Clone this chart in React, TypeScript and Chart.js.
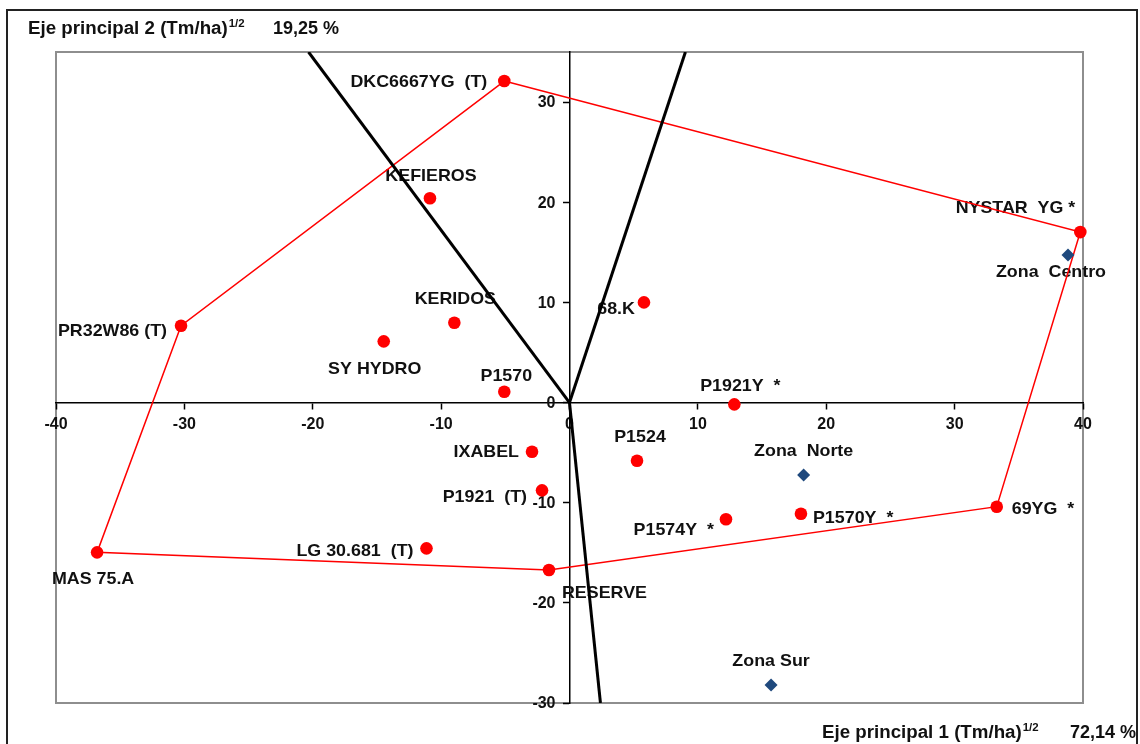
import React, { useEffect, useRef } from "react";
import { Chart, registerables } from "chart.js";

Chart.register(...registerables);

// ---- Data ----
const hybridNames = [
  "DKC6667YG  (T)", "KEFIEROS", "PR32W86 (T)", "KERIDOS", "SY HYDRO", "P1570",
  "68.K", "NYSTAR  YG *", "P1921Y  *", "IXABEL", "P1524", "P1921  (T)",
  "P1574Y  *", "P1570Y  *", "69YG  *", "LG 30.681  (T)", "MAS 75.A", "RESERVE",
];
const hybridX = [
  -5.08, -10.87, -30.26, -8.97, -14.47, -5.08,
  5.8, 39.79, 12.84, -2.92, 5.26, -2.14,
  12.19, 18.03, 33.28, -11.14, -36.8, -1.6,
];
const hybridY = [
  32.1, 20.39, 7.67, 7.97, 6.11, 1.08,
  10.0, 17.02, -0.18, -4.91, -5.81, -8.77,
  -11.66, -11.1, -10.4, -14.56, -14.96, -16.72,
];

const zoneNames = ["Zona  Centro", "Zona  Norte", "Zona Sur"];
const zoneX = [38.83, 18.24, 15.7];
const zoneY = [14.73, -7.24, -28.21];

// convex hull (polygon) vertex order, by hybrid index
const hullOrder = [0, 7, 14, 17, 16, 2, 0];

// black axis lines (from the origin)
const vectorEndX = [-20.33, 9.03, 2.41];
const vectorEndY = [35, 35, -30];

const xTicks = [-40, -30, -20, -10, 0, 10, 20, 30, 40];
const yTicks = [-30, -20, -10, 0, 10, 20, 30];

const xTitle = "Eje principal 1 (Tm/ha)";
const xTitlePct = "72,14 %";
const yTitle = "Eje principal 2 (Tm/ha)";
const yTitlePct = "19,25 %";
const titleSup = "1/2";

// ---- Label placement (pixel offsets from the marker) ----
type Place = { dx: number; dy: number; align: CanvasTextAlign };
const hybridLabelPlace: Place[] = [
  { dx: -17, dy: 1, align: "right" },
  { dx: 1, dy: -22, align: "center" },
  { dx: -14, dy: 6, align: "right" },
  { dx: 1, dy: -23, align: "center" },
  { dx: -9, dy: 28, align: "center" },
  { dx: 2, dy: -15, align: "center" },
  { dx: -9, dy: 7, align: "right" },
  { dx: -5, dy: -24, align: "right" },
  { dx: 6, dy: -18, align: "center" },
  { dx: -13, dy: 1, align: "right" },
  { dx: 3, dy: -23, align: "center" },
  { dx: -15, dy: 7, align: "right" },
  { dx: -12, dy: 11, align: "right" },
  { dx: 12, dy: 5, align: "left" },
  { dx: 15, dy: 3, align: "left" },
  { dx: -13, dy: 3, align: "right" },
  { dx: -4, dy: 27, align: "center" },
  { dx: 13, dy: 23, align: "left" },
];
const zoneLabelPlace: Place[] = [
  { dx: -17, dy: 17, align: "center" },
  { dx: 0, dy: -24, align: "center" },
  { dx: 0, dy: -24, align: "center" },
];

const FONT = "'Liberation Sans', Arial, sans-serif";
const LABEL_FONT = `bold 17px ${FONT}`;
const TICK_FONT = `bold 16px ${FONT}`;
const STRETCH = 1.05;

function drawStretched(
  ctx: CanvasRenderingContext2D,
  text: string,
  x: number,
  y: number,
  align: CanvasTextAlign,
  font: string,
  sx: number,
  baseline: CanvasTextBaseline = "middle"
) {
  ctx.save();
  ctx.font = font;
  ctx.textAlign = align;
  ctx.textBaseline = baseline;
  ctx.translate(x, y);
  ctx.scale(sx, 1);
  ctx.fillText(text, 0, 0);
  ctx.restore();
}

const decorPlugin = {
  id: "decor",
  beforeDraw(chart: any) {
    const ctx = chart.ctx as CanvasRenderingContext2D;
    ctx.save();
    ctx.fillStyle = "#ffffff";
    ctx.fillRect(0, 0, chart.width, chart.height);
    // outer border
    ctx.strokeStyle = "#222";
    ctx.lineWidth = 2;
    ctx.strokeRect(7, 10, 1130, 800);
    // plot area border
    const a = chart.chartArea;
    ctx.strokeStyle = "#8e8e8e";
    ctx.lineWidth = 2;
    ctx.strokeRect(a.left, a.top, a.right - a.left, a.bottom - a.top);
    ctx.restore();
  },
  beforeDatasetsDraw(chart: any) {
    const ctx = chart.ctx as CanvasRenderingContext2D;
    const xs = chart.scales.x;
    const ys = chart.scales.y;
    ctx.save();
    ctx.fillStyle = "#111";
    // y tick labels, right-aligned left of the vertical axis
    const axisX = xs.getPixelForValue(0);
    ys.ticks.forEach((t: any) => {
      drawStretched(ctx, String(t.value), axisX - 14, ys.getPixelForValue(t.value) + 1, "right", TICK_FONT, 1);
    });
    hybridNames.forEach((name, i) => {
      const p = hybridLabelPlace[i];
      const px = xs.getPixelForValue(hybridX[i]) + p.dx;
      const py = ys.getPixelForValue(hybridY[i]) + p.dy;
      drawStretched(ctx, name, px, py, p.align, LABEL_FONT, STRETCH);
    });
    zoneNames.forEach((name, i) => {
      const p = zoneLabelPlace[i];
      const px = xs.getPixelForValue(zoneX[i]) + p.dx;
      const py = ys.getPixelForValue(zoneY[i]) + p.dy;
      drawStretched(ctx, name, px, py, p.align, LABEL_FONT, STRETCH);
    });
    ctx.restore();
  },
  afterDraw(chart: any) {
    const ctx = chart.ctx as CanvasRenderingContext2D;
    ctx.save();
    ctx.fillStyle = "#111";
    const tf = `bold 18px ${FONT}`;
    const sf = `bold 11px ${FONT}`;
    // Y title (top-left)
    ctx.font = tf;
    drawStretched(ctx, yTitle, 28, 34, "left", tf, 1.04, "alphabetic");
    ctx.font = tf;
    const w1 = ctx.measureText(yTitle).width * 1.04;
    drawStretched(ctx, titleSup, 28 + w1 + 1, 27, "left", sf, 1.04, "alphabetic");
    drawStretched(ctx, yTitlePct, 273, 34, "left", tf, 1.0, "alphabetic");
    // X title (bottom-right)
    drawStretched(ctx, xTitle, 822, 738, "left", tf, 1.04, "alphabetic");
    ctx.font = tf;
    const w2 = ctx.measureText(xTitle).width * 1.04;
    drawStretched(ctx, titleSup, 822 + w2 + 1, 731, "left", sf, 1.04, "alphabetic");
    drawStretched(ctx, xTitlePct, 1070, 738, "left", tf, 1.0, "alphabetic");
    ctx.restore();
  },
};

export default function App() {
  const ref = useRef<HTMLCanvasElement | null>(null);

  useEffect(() => {
    if (!ref.current) return;
    const hybridPts = hybridX.map((x, i) => ({ x, y: hybridY[i] }));
    const zonePts = zoneX.map((x, i) => ({ x, y: zoneY[i] }));
    const hullPts = hullOrder.map((i) => ({ x: hybridX[i], y: hybridY[i] }));
    const vectorSets = vectorEndX.map((x, i) => ({
      type: "line" as const,
      data: [{ x: 0, y: 0 }, { x, y: vectorEndY[i] }],
      borderColor: "#000",
      borderWidth: 3,
      pointRadius: 0,
      showLine: true,
      fill: false,
      order: 2,
    }));

    const chart = new Chart(ref.current, {
      type: "scatter",
      data: {
        datasets: [
          {
            type: "line",
            data: hullPts,
            borderColor: "#ff0000",
            borderWidth: 1.5,
            pointRadius: 0,
            showLine: true,
            fill: false,
            tension: 0,
            order: 3,
          } as any,
          ...(vectorSets as any[]),
          {
            data: hybridPts,
            pointStyle: "circle",
            pointRadius: 6.3,
            backgroundColor: "#ff0000",
            borderWidth: 0,
            clip: false,
            order: 1,
          },
          {
            data: zonePts,
            pointStyle: "rectRot",
            pointRadius: 6.5,
            backgroundColor: "#1f497d",
            borderWidth: 0,
            clip: false,
            order: 0,
          },
        ],
      },
      options: {
        animation: false,
        responsive: false,
        devicePixelRatio: 1,
        layout: { padding: { left: 56, top: 52, right: 57, bottom: 41 } },
        plugins: {
          legend: { display: false },
          tooltip: { enabled: false },
          title: { display: false },
        },
        scales: {
          x: {
            type: "linear",
            min: -40,
            max: 40,
            position: { y: 0 } as any,
            afterBuildTicks: (s: any) => {
              s.ticks = xTicks.map((v) => ({ value: v }));
            },
            grid: {
              drawOnChartArea: false,
              drawTicks: true,
              tickLength: 6,
              tickColor: "#000",
              tickWidth: 1.5,
            },
            border: { display: true, color: "#000", width: 1.5 },
            ticks: {
              color: "#111",
              font: { family: FONT, size: 16, weight: "bold" },
              padding: 6,
              maxRotation: 0,
              autoSkip: false,
            },
          },
          y: {
            type: "linear",
            min: -30,
            max: 35,
            position: { x: 0 } as any,
            afterBuildTicks: (s: any) => {
              s.ticks = yTicks.map((v) => ({ value: v }));
            },
            grid: {
              drawOnChartArea: false,
              drawTicks: true,
              tickLength: 6,
              tickColor: "#000",
              tickWidth: 1.5,
            },
            border: { display: true, color: "#000", width: 1.5 },
            ticks: {
              display: false,
              autoSkip: false,
            },
          },
        },
      } as any,
      plugins: [decorPlugin],
    });
    return () => chart.destroy();
  }, []);

  return (
    <div style={{ position: "fixed", left: 0, top: 0, width: 1140, height: 744, background: "#fff" }}>
      <canvas ref={ref} width={1140} height={744} style={{ width: 1140, height: 744, display: "block" }} />
    </div>
  );
}
